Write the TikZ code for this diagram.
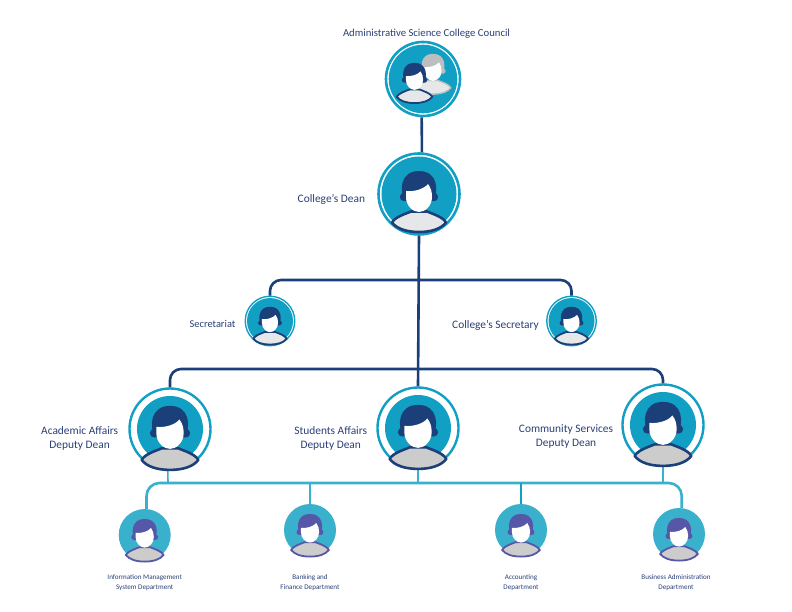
\documentclass[tikz,border=0pt]{standalone}
\usepackage{fontspec}
\setmainfont{Carlito}
\usetikzlibrary{positioning}
\definecolor{azulOscuro}{HTML}{1B4079}
\definecolor{azulVivo}{HTML}{11A0C4}
\definecolor{azulClaro}{HTML}{3AB1CC}
\definecolor{morado}{HTML}{5757A8}
\definecolor{textoAzul}{HTML}{2A3F77}
\definecolor{grisClaro}{HTML}{E6E7E8}
\definecolor{grisMedio}{HTML}{CCCCCC}
\definecolor{grisPelo}{HTML}{BDBEC0}

\begin{document}
\begin{tikzpicture}[
  x=1pt, y=-1pt,
  font=\fontsize{11.4}{14}\selectfont,
  anillo/.style={circle, draw=azulVivo, fill=white, inner sep=0pt},
  disco/.style={circle, fill=azulClaro, inner sep=0pt, minimum size=52pt},
  fondo/.style={fill=azulVivo},
  linea/.style={draw=azulOscuro, line width=2.6pt},
  ramal/.style={draw=azulClaro, line width=2.6pt},
  bajada/.style={draw=azulClaro, line width=1.6pt},
  etiqueta/.style={text=textoAzul, align=center, inner sep=0pt},
  depto/.style={etiqueta, font=\fontsize{7.1}{10}\selectfont},
  pics/persona/.style n args={3}{code={
    \fill[#1] (-14,7) .. controls (-20,-3) and (-19,-23) .. (0,-23)
      .. controls (19,-23) and (20,-3) .. (14,7) -- cycle;
    \fill[#1] (-15,3) circle (4.2);
    \fill[#1] (15,3) circle (4.2);
    \draw[#1, fill=#2, line width=#3, line join=round] (-27,28.5)
      .. controls (-24,23) and (-14,20) .. (-8,17.5)
      -- (8,17.5) .. controls (14,20) and (24,23) .. (27,28.5)
      .. controls (22,35) and (12,38) .. (0,38)
      .. controls (-12,38) and (-22,35) .. (-27,28.5) -- cycle;
    \fill[white] (-13,-3) .. controls (-5,-2) and (5,-5) .. (9,-10)
      .. controls (12,-6) and (13,-2) .. (13,3)
      .. controls (13,12) and (6,18) .. (0,18)
      .. controls (-6,18) and (-13,12) .. (-13,3) -- cycle;
  }}
]
\useasboundingbox (0,0) rectangle (792,612);

% Puntos de cruce de los tres niveles.
\coordinate (cruceA) at (419,280);
\coordinate (cruceB) at (419,369);
\coordinate (cruceC) at (418,483);
\coordinate (pieAcademico) at (168,483);
\coordinate (pieComunidad) at (663,483);
\coordinate (pieBanca) at (310,483);
\coordinate (pieContab) at (521,483);

\node[anillo, line width=2.6pt, minimum size=74pt] (consejo) at (423,79) {};
\node[anillo, line width=2.6pt, minimum size=81pt] (decano) at (419,194) {};
\node[anillo, line width=1.4pt, minimum size=49.5pt] (secretaria) at (270,321) {};
\node[anillo, line width=1.4pt, minimum size=49.5pt] (secretario) at (571.5,321) {};
\node[anillo, line width=2.4pt, minimum size=81pt] (academico) at (170,429) {};
\node[anillo, line width=2.4pt, minimum size=81pt] (estudiantes) at (418,428) {};
\node[anillo, line width=2.4pt, minimum size=81pt] (comunidad) at (663,425) {};
\node[disco] (info) at (144.7,535) {};
\node[disco] (banca) at (310,530) {};
\node[disco] (contab) at (521,530) {};
\node[disco] (admin) at (679,534) {};

\draw[linea] (consejo.268) -- (decano.86);
\draw[linea] (decano.south) -- (estudiantes.north);
\draw[linea, rounded corners=11pt] (secretaria.north) |- (cruceA) -| (secretario.north);
\draw[linea, rounded corners=11pt] (academico.north) |- (cruceB) -| (comunidad.north);
\draw[ramal, rounded corners=13pt] (info.86) |- (cruceC) -| (admin.84);
\draw[bajada] (academico.267) -- (pieAcademico);
\draw[bajada] (estudiantes.south) -- (cruceC);
\draw[bajada] (comunidad.south) -- (pieComunidad);
\draw[bajada] (pieBanca) -- (banca.north);
\draw[bajada, draw=azulVivo] (pieContab) -- (contab.north);

\fill[fondo] (consejo.center) circle (34.3);
\fill[fondo] (decano.center) circle (37.5);
\fill[fondo] (secretaria.center) circle (23);
\fill[fondo] (secretario.center) circle (23);
\fill[fondo] (academico.center) circle (33);
\fill[fondo] (estudiantes.center) circle (33);
\fill[fondo] (comunidad.center) circle (33);

\pic[scale=0.66] at (433,69) {persona={grisPelo}{grisClaro}{1.4pt}};
\pic[scale=0.66] at (414.5,78) {persona={azulOscuro}{grisClaro}{1.8pt}};
\pic at (419,194) {persona={azulOscuro}{grisClaro}{2.6pt}};
\pic[scale=0.62] at (270,321) {persona={azulOscuro}{grisClaro}{1.8pt}};
\pic[scale=0.62] at (571.5,321) {persona={azulOscuro}{grisClaro}{1.8pt}};
\pic[scale=1.05] at (170,430) {persona={azulOscuro}{grisMedio}{2.6pt}};
\pic[scale=1.05] at (418,429) {persona={azulOscuro}{grisMedio}{2.6pt}};
\pic[scale=1.05] at (663,426) {persona={azulOscuro}{grisMedio}{2.6pt}};
\pic[scale=0.7] at (144.7,535) {persona={morado}{grisMedio}{1.8pt}};
\pic[scale=0.7] at (310,530) {persona={morado}{grisMedio}{1.8pt}};
\pic[scale=0.7] at (521,530) {persona={morado}{grisMedio}{1.8pt}};
\pic[scale=0.7] at (679,534) {persona={morado}{grisMedio}{1.8pt}};

\node[etiqueta, above=2pt of consejo.north, xshift=3.5pt, font=\fontsize{10.7}{13}\selectfont] (tconsejo) {Administrative Science College Council};
\node[etiqueta, left=12pt of decano.west, yshift=-5pt] (tdecano) {College's Dean};
\node[etiqueta, left=9pt of secretaria.west, yshift=-3pt, font=\fontsize{10.4}{13}\selectfont] (tsecretaria) {Secretariat};
\node[etiqueta, left=7pt of secretario.west, yshift=-4.5pt] (tsecretario) {College's Secretary};
\node[etiqueta, left=10pt of academico.west, yshift=-9pt] (tacademico) {Academic Affairs\\Deputy Dean};
\node[etiqueta, left=9pt of estudiantes.west, yshift=-10pt] (testudiantes) {Students Affairs\\Deputy Dean};
\node[etiqueta, left=8pt of comunidad.west, yshift=-11pt] (tcomunidad) {Community Services\\Deputy Dean};

\node[depto, below=13.5pt of info.south] (tinfo) {Information Management\\System Department};
\node[depto, below=18.5pt of banca.south] (tbanca) {Banking and\\Finance Department};
\node[depto, below=18.5pt of contab.south] (tcontab) {Accounting\\Department};
\node[depto, below=14.5pt of admin.south, xshift=-3pt] (tadmin) {Business Administration\\Department};

\end{tikzpicture}
\end{document}
